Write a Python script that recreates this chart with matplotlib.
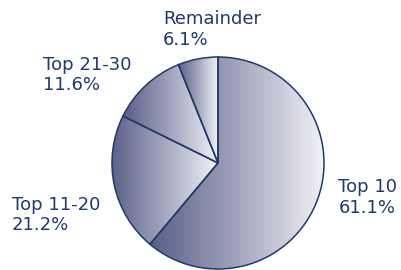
import matplotlib
matplotlib.use("Agg")
import matplotlib.pyplot as plt
import numpy as np
from matplotlib.colors import LinearSegmentedColormap

labels = ["Top 10", "Top 11-20", "Top 21-30", "Remainder"]
values = [61.1, 21.2, 11.6, 6.1]

text_color = "#1f3a6b"
edge_color = "#1f3a6b"
cmap = LinearSegmentedColormap.from_list("g", ["#595e87", "#a3a5bd", "#f3f3f7"])

fig = plt.figure(figsize=(4.01, 2.70), dpi=100)
ax = fig.add_axes([0, 0, 1, 1])

wedges, _ = ax.pie(values, startangle=90, counterclock=False, center=(218, 107),
                   radius=106, frame=True,
                   wedgeprops=dict(facecolor="none", edgecolor=edge_color, linewidth=1.1))

grad = np.linspace(0, 1, 256).reshape(1, -1)
for w in wedges:
    verts = w.get_path().vertices
    x0, x1 = verts[:, 0].min(), verts[:, 0].max()
    y0, y1 = verts[:, 1].min(), verts[:, 1].max()
    im = ax.imshow(grad, cmap=cmap, extent=(x0, x1, y0, y1), aspect="auto",
                   interpolation="bilinear", zorder=0.5)
    im.set_clip_path(w)
    w.set_zorder(2)

ax.set_xlim(0, 401)
ax.set_ylim(0, 270)
ax.set_aspect("equal")
ax.axis("off")

label_pos = {
    "Top 10": (338.5, 270 - 178.5),
    "Top 11-20": (12, 270 - 195.5),
    "Top 21-30": (43, 270 - 55.5),
    "Remainder": (163, 270 - 10),
}
for lab, val in zip(labels, values):
    x, y = label_pos[lab]
    ax.text(x, y, f"{lab}\n{val:.1f}%", ha="left", va="top", fontsize=13,
            color=text_color, linespacing=1.2, family="DejaVu Sans")

fig.savefig("out.png", dpi=100)
